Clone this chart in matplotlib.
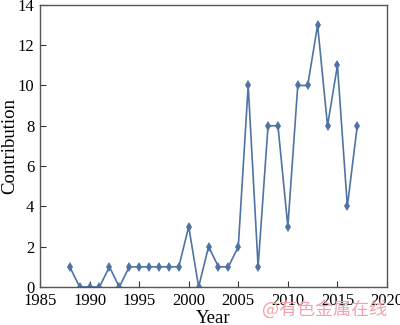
import matplotlib
matplotlib.use("Agg")
import matplotlib.pyplot as plt

years = list(range(1988, 2018))
contrib = [1, 0, 0, 0, 1, 0, 1, 1, 1, 1, 1, 1, 3, 0, 2, 1, 1, 2, 10, 1,
           8, 8, 3, 10, 10, 13, 8, 11, 4, 8]
xticks = [1985, 1990, 1995, 2000, 2005, 2010, 2015, 2020]
yticks = [0, 2, 4, 6, 8, 10, 12, 14]

plt.rcParams["font.family"] = ["Liberation Serif", "DejaVu Serif"]

fig = plt.figure(figsize=(4, 3.25), dpi=100)
ax = fig.add_axes([0.1, 0.117, 0.8675, 0.868])

ax.plot(years, contrib, color="#4f73a3", linewidth=1.2, marker="d",
        markersize=5, markerfacecolor="#4f73a3", markeredgewidth=0)

ax.set_xlim(1985, 2020)
ax.set_ylim(0, 14)
ax.set_xticks(xticks)
ax.set_yticks(yticks)
ax.tick_params(direction="in", labelsize=12, length=4, width=0.8, colors="#333333",
               labelcolor="black", pad=4)
for s in ax.spines.values():
    s.set_color("#555555")
    s.set_linewidth(1.0)

ax.set_xlabel("Year", fontsize=13.5)
ax.set_ylabel("Contribution", fontsize=13.5)
ax.yaxis.set_label_coords(-0.064, 0.5)
ax.xaxis.set_label_coords(0.5, -0.082)

fig.text(0.655, 0.049, "@有色金属在线", fontsize=13, color="#f2a3ab",
         family=["Noto Sans CJK SC", "DejaVu Sans"], va="center")

fig.savefig("out.png", dpi=100)
